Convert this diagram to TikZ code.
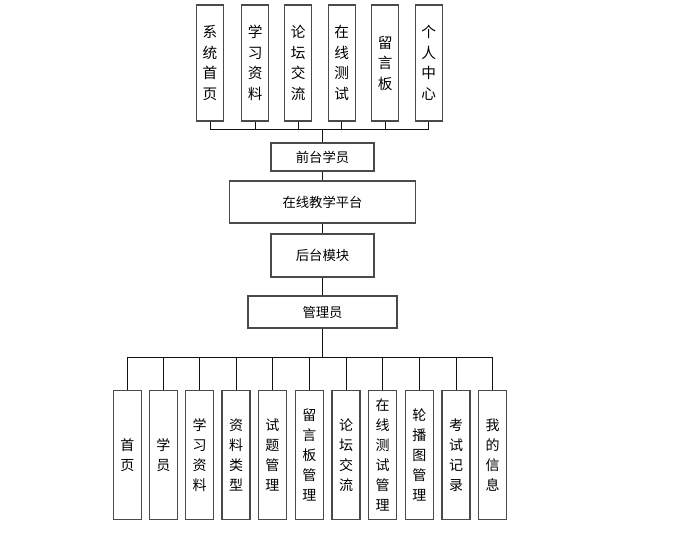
\documentclass[tikz,border=0pt]{standalone}
\usepackage{fontspec}
\setmainfont{Noto Sans CJK SC}
\usepackage{xcolor}
\definecolor{colBorder}{HTML}{4A4A4A}
\definecolor{colLine}{HTML}{111111}
\usetikzlibrary{positioning, calc}

\begin{document}
\begin{tikzpicture}[x=0.75pt, y=-0.75pt,
    topbox/.style={draw=colBorder, line width=0.9pt, fill=white, inner sep=0pt,
      minimum width=20.25pt, minimum height=87pt, align=center,
      font=\fontsize{11pt}{15.4pt}\selectfont},
    midbox/.style={draw=colBorder, line width=0.9pt, fill=white, inner sep=0pt,
      font=\fontsize{10pt}{12pt}\selectfont},
    subbox/.style={draw=colBorder, line width=0.9pt, fill=white, inner sep=0pt,
      minimum width=21pt, minimum height=96.75pt, align=center,
      font=\fontsize{10.5pt}{15pt}\selectfont},
    link/.style={draw=colLine, line width=0.75pt}]
  % Canvas: 1px -> 0.75pt
  \useasboundingbox (0,0) rectangle (683,535);
  % Front-end modules
  \foreach \i/\x/\txt in {1/210/{系\\统\\首\\页}, 2/255.3/{学\\习\\资\\料},
      3/298.3/{论\\坛\\交\\流}, 4/341.7/{在\\线\\测\\试},
      5/385.3/{留\\言\\板}, 6/428.7/{个\\人\\中\\心}}
    \node[topbox] (t\i) at (\x,63) {\txt};
  % Main chain
  \node[midbox, minimum width=77.25pt, minimum height=21pt] (front) at (322.5,157) {前台学员};
  \node[midbox, minimum width=139.5pt, minimum height=31.5pt] (platform) at (322.5,202) {在线教学平台};
  \node[midbox, minimum width=77.25pt, minimum height=32.25pt] (back) at (322.5,255.5) {后台模块};
  \node[midbox, minimum width=111.75pt, minimum height=24pt] (admin) at (322.5,312) {管理员};
  % Back-end modules
  \foreach \i/\x/\txt in {1/127.3/{首\\页}, 2/163.3/{学\\员}, 3/199.7/{学\\习\\资\\料},
      4/236/{资\\料\\类\\型}, 5/272.3/{试\\题\\管\\理}, 6/309.3/{留\\言\\板\\管\\理},
      7/346/{论\\坛\\交\\流}, 8/382.7/{在\\线\\测\\试\\管\\理},
      9/419.3/{轮\\播\\图\\管\\理}, 10/456/{考\\试\\记\\录}, 11/492.7/{我\\的\\信\\息}}
    \node[subbox] (b\i) at (\x,455) {\txt};
  % Top bus
  \coordinate (topbus) at (322.5,129.5);
  \draw[link] (t1.south |- topbus) -- (t6.south |- topbus);
  \foreach \i in {1,...,6}
    \draw[link] (t\i.south) -- (t\i.south |- topbus);
  \draw[link] (topbus) -- (front.north);
  % Chain links
  \draw[link] (front.south) -- (platform.north);
  \draw[link] (platform.south) -- (back.north);
  \draw[link] (back.south) -- (admin.north);
  % Bottom bus
  \coordinate (subbus) at (322.5,357.5);
  \draw[link] (admin.south) -- (subbus);
  \draw[link] (b1.north |- subbus) -- (b11.north |- subbus);
  \foreach \i in {1,...,11}
    \draw[link] (b\i.north |- subbus) -- (b\i.north);
\end{tikzpicture}
\end{document}
